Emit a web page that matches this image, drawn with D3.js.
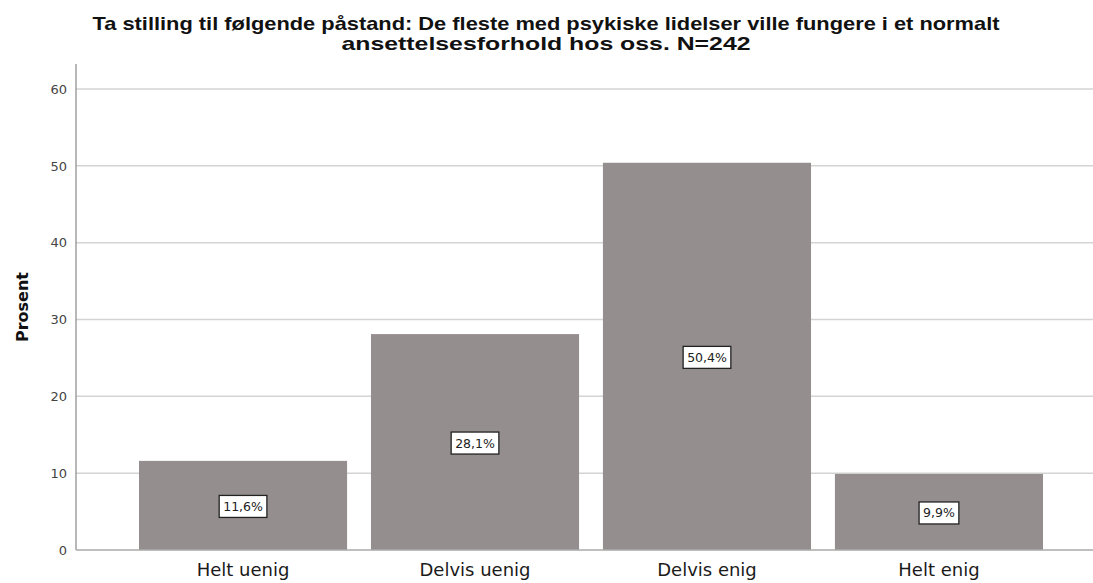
<!DOCTYPE html>
<html>
<head>
<meta charset="utf-8">
<script src="https://cdn.jsdelivr.net/npm/d3@7"></script>
<style>
  body { margin: 0; background: #fff; }
  svg { display: block; }
</style>
</head>
<body>
<svg id="chart" width="1093" height="583"></svg>
<script>
var categories = ["Helt uenig", "Delvis uenig", "Delvis enig", "Helt enig"];
var values = [11.6, 28.1, 50.4, 9.9];
var labels = ["11,6%", "28,1%", "50,4%", "9,9%"];
var yTicks = [0, 10, 20, 30, 40, 50, 60];
var titleLines = ["Ta stilling til følgende påstand: De fleste med psykiske lidelser ville fungere i et normalt",
                  "ansettelsesforhold hos oss. N=242"];
var yTitle = "Prosent";

var svg = d3.select("#chart"),
    width = +svg.attr("width"),
    height = +svg.attr("height");

var axisX = 76, plotRight = 1093, plotTop = 64, plotBottom = 550;

var x = d3.scaleBand()
    .domain(categories)
    .range([127, 1055])
    .paddingInner(0.103)
    .paddingOuter(0.0517);

var y = d3.scaleLinear().domain([0, 60]).range([plotBottom, 89]);

// grid lines
svg.append("g").selectAll("line")
    .data(yTicks.filter(function(d) { return d > 0; }))
    .enter().append("line")
    .attr("x1", axisX).attr("x2", plotRight)
    .attr("y1", function(d) { return y(d); })
    .attr("y2", function(d) { return y(d); })
    .attr("stroke", "#d4d4d4")
    .attr("stroke-width", 1.5);

// bars
svg.append("g").selectAll("rect")
    .data(values)
    .enter().append("rect")
    .attr("x", function(d, i) { return x(categories[i]); })
    .attr("width", x.bandwidth())
    .attr("y", function(d) { return y(d); })
    .attr("height", function(d) { return plotBottom - y(d); })
    .attr("fill", "#948f8e");

// y axis
var yAxis = svg.append("g")
    .attr("transform", "translate(" + axisX + ",0)")
    .call(d3.axisLeft(y).tickValues(yTicks).tickSize(0).tickPadding(9));
yAxis.select(".domain").remove();
yAxis.selectAll("text")
    .style("font-family", "'DejaVu Sans', sans-serif")
    .style("font-size", "13px")
    .attr("fill", "#444");

svg.append("line")
    .attr("x1", axisX).attr("x2", axisX)
    .attr("y1", plotTop).attr("y2", plotBottom)
    .attr("stroke", "#888").attr("stroke-width", 1.2);
svg.append("line")
    .attr("x1", axisX).attr("x2", plotRight)
    .attr("y1", plotBottom).attr("y2", plotBottom)
    .attr("stroke", "#aaa").attr("stroke-width", 1.5);

// x axis labels
var xAxis = svg.append("g")
    .attr("transform", "translate(0," + plotBottom + ")")
    .call(d3.axisBottom(x).tickSize(0).tickPadding(13));
xAxis.select(".domain").remove();
xAxis.selectAll("text")
    .style("font-family", "'DejaVu Sans', sans-serif")
    .style("font-size", "18px")
    .attr("fill", "#1a1a1a");

// value labels in boxes
var lab = svg.append("g").selectAll("g")
    .data(values)
    .enter().append("g")
    .attr("transform", function(d, i) {
        return "translate(" + (x(categories[i]) + x.bandwidth() / 2) + "," + (y(d / 2) + 1) + ")";
    });
lab.append("text")
    .attr("text-anchor", "middle")
    .attr("dy", "0.36em")
    .style("font-family", "'DejaVu Sans', sans-serif")
    .style("font-size", "12.5px")
    .attr("fill", "#222")
    .text(function(d, i) { return labels[i]; });
lab.each(function() {
    var g = d3.select(this);
    var w = g.select("text").node().getComputedTextLength();
    g.insert("rect", "text")
        .attr("x", -w / 2 - 4).attr("y", -11)
        .attr("width", w + 8).attr("height", 22)
        .attr("fill", "#fff")
        .attr("stroke", "#222").attr("stroke-width", 1.3);
});

// y title
svg.append("text")
    .attr("transform", "translate(28,307) rotate(-90)")
    .attr("text-anchor", "middle")
    .style("font-family", "'DejaVu Sans', sans-serif")
    .style("font-weight", "bold")
    .style("font-size", "16px")
    .attr("fill", "#111")
    .text(yTitle);

// title
svg.append("g").selectAll("text")
    .data(titleLines)
    .enter().append("text")
    .attr("x", 546)
    .attr("y", function(d, i) { return 30 + i * 20; })
    .attr("text-anchor", "middle")
    .style("font-family", "'Liberation Sans', sans-serif")
    .style("font-weight", "bold")
    .style("font-size", "18.5px")
    .attr("fill", "#111")
    .attr("textLength", function(d, i) { return i === 0 ? 907 : 409; })
    .attr("lengthAdjust", "spacingAndGlyphs")
    .text(function(d) { return d; });
</script>
</body>
</html>
